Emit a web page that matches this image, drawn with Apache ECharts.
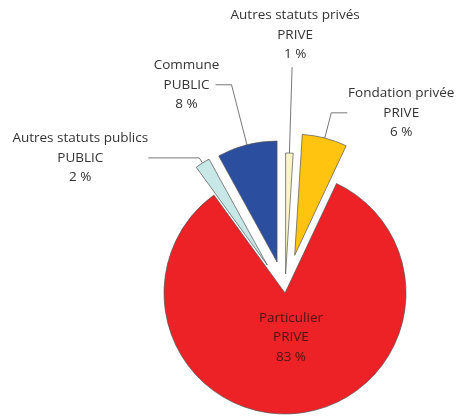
<!DOCTYPE html>
<html>
<head>
<meta charset="utf-8">
<script src="https://cdn.jsdelivr.net/npm/echarts@6/dist/echarts.min.js"></script>
<style>
  html, body { margin: 0; padding: 0; background: #fff; }
  #chart { width: 456px; height: 419px; }
</style>
</head>
<body>
<div id="chart"></div>
<script>
// données (sens horaire depuis midi)
const names = ['Autres statuts privés', 'Fondation privée', 'Particulier', 'Autres statuts publics', 'Commune']
const statuts = ['PRIVE', 'PRIVE', 'PRIVE', 'PUBLIC', 'PUBLIC']
const values = [1, 6, 83, 2, 8]

// style
const colors = ['#faf4c6', '#fec40f', '#ec2227', '#c7e8e6', '#2b4e9f']
const explode = [19, 39, 0, 33, 32] // décalage de chaque part
const cx = 285
const cy = 293
const radius = 121
const font = '"Open Sans", sans-serif'

// lignes de rappel + largeur du bloc de texte
const labelCfg = [
  { length: 86, length2: 0, width: 140, dist: 0 },
  { length: 26, length2: 16, width: 100, dist: 4 },
  { inside: true, width: 90 },
  { length: 6, length2: 51, width: 136, dist: 0 },
  { length: 62, length2: 16, width: 58, dist: 0 }
]

const total = values.reduce((a, b) => a + b, 0)

function labelText (i) {
  return '{t|' + names[i] + '}\n{t|' + statuts[i] + '}\n{t|' + values[i] + ' %}'
}

const chart = echarts.init(document.getElementById('chart'))
let acc = 0
const series = values.map((v, i) => {
  const mid = (acc + v / 2) / total * Math.PI * 2
  acc += v
  const d = explode[i]
  const cfg = labelCfg[i]
  return {
    type: 'pie',
    silent: true,
    animation: false,
    avoidLabelOverlap: false,
    center: [cx + d * Math.sin(mid), cy - d * Math.cos(mid)],
    radius: radius,
    startAngle: 90,
    emphasis: { disabled: true },
    labelLayout: function (params) {
      if (params.dataIndex !== i) return {}
      if (i === 0) {
        const p = params.labelLinePoints
        if (!p) return {}
        const end = p[p.length - 1]
        return { x: end[0] + 3, y: end[1] - 3, align: 'center', verticalAlign: 'bottom', labelLinePoints: p }
      }
      if (i === 2) return { dy: -19 }
      return {}
    },
    data: values.map((val, j) => ({
      value: val,
      name: names[j],
      itemStyle: j === i
        ? { color: colors[j], borderColor: '#555', borderWidth: 0.7 }
        : { color: 'transparent', borderWidth: 0 },
      label: {
        show: j === i,
        position: cfg.inside ? 'inner' : 'outside',
        distanceToLabelLine: cfg.dist || 0,
        formatter: () => labelText(j),
        rich: {
          t: {
            width: cfg.width,
            align: 'center',
            fontFamily: font,
            fontSize: 13.5,
            lineHeight: 19.5,
            color: cfg.inside ? '#4d1414' : '#333'
          }
        }
      },
      labelLine: {
        show: j === i && !cfg.inside,
        length: cfg.length,
        length2: cfg.length2,
        lineStyle: { color: '#555', width: 0.8 }
      }
    }))
  }
})

chart.setOption({
  backgroundColor: '#fff',
  series: series
})
</script>
</body>
</html>
